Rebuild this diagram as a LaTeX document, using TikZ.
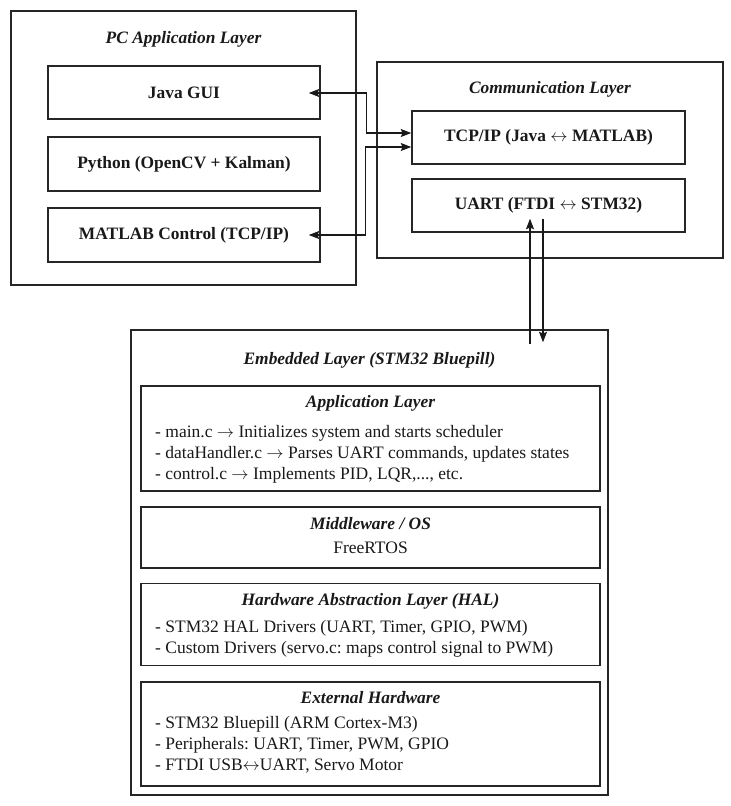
\documentclass[tikz,border=0pt]{standalone}
\usepackage{fontspec}
\setmainfont{Liberation Serif}
\usetikzlibrary{arrows.meta,calc}
\frenchspacing
\begin{document}
\begin{tikzpicture}[x=1pt,y=-1pt,
  every node/.style={font=\fontsize{17.5}{21}\selectfont\frenchspacing, text=black!90},
  frame/.style={draw=black!85, line width=1.5pt, inner sep=0pt},
  bbox/.style={frame, font=\fontsize{17.4}{21}\selectfont\bfseries},
  ttl/.style={anchor=base, inner sep=0pt, font=\fontsize{17.4}{21}\selectfont\bfseries\itshape},
  txt/.style={anchor=base west, inner sep=0pt},
  ctxt/.style={anchor=base, inner sep=0pt},
  tip/.tip={Stealth[length=10.5pt,width=8pt,inset=1.8pt]},
  arr/.style={draw=black!90, line width=1.2pt, -tip},
  biarr/.style={draw=black!90, line width=1.2pt, tip-tip}
]
\path[use as bounding box] (0,0) rectangle (731,806);

% PC application layer
\node[frame, minimum width=345pt, minimum height=274pt] (pc) at (183.5,148) {};
\node[ttl] (pct) at (183.5,43) {PC Application Layer};
\node[bbox, minimum width=272pt, minimum height=53pt] (java) at (184,92.5) {Java GUI};
\node[bbox, minimum width=272pt, minimum height=54pt] (py) at (184,164) {Python (OpenCV + Kalman)};
\node[bbox, minimum width=272pt, minimum height=54pt] (mat) at (184,235) {MATLAB Control (TCP/IP)};

% Communication layer
\node[frame, minimum width=346pt, minimum height=196pt] (comm) at (550,160) {};
\node[ttl] (commt) at (550,93) {Communication Layer};
\node[bbox, minimum width=273pt, minimum height=53pt] (tcp) at (548.5,137.5) {TCP/IP (Java $\leftrightarrow$ MATLAB)};
\node[bbox, minimum width=273pt, minimum height=53pt] (uart) at (548.5,205.5) {UART (FTDI $\leftrightarrow$ STM32)};

% Embedded layer
\node[frame, minimum width=477pt, minimum height=465pt] (emb) at (369.5,562.5) {};
\node[ttl] (embt) at (369.5,364) {Embedded Layer (STM32 Bluepill)};

\node[frame, minimum width=459pt, minimum height=105pt] (app) at (370.5,438.5) {};
\node[ttl] (appt) at (370.5,407) {Application Layer};
\node[txt] (a1) at (155,437) {- main.c $\rightarrow$ Initializes system and starts scheduler};
\node[txt] (a2) at (155,458) {- dataHandler.c $\rightarrow$ Parses UART commands, updates states};
\node[txt] (a3) at (155,479) {- control.c $\rightarrow$ Implements PID, LQR,..., etc.};

\node[frame, minimum width=459pt, minimum height=61pt] (mid) at (370.5,537.5) {};
\node[ttl] (midt) at (370.5,529) {Middleware / OS};
\node[ctxt] (m1) at (370.5,553) {FreeRTOS};

\node[frame, minimum width=459pt, minimum height=82pt] (hal) at (370.5,624.5) {};
\node[ttl] (halt) at (370.5,605) {Hardware Abstraction Layer (HAL)};
\node[txt] (h1) at (155,632) {- STM32 HAL Drivers (UART, Timer, GPIO, PWM)};
\node[txt] (h2) at (155,653) {- Custom Drivers (servo.c: maps control signal to PWM)};

\node[frame, minimum width=459pt, minimum height=104pt] (ext) at (370.5,734) {};
\node[ttl] (extt) at (370.5,703) {External Hardware};
\node[txt] (e1) at (155,728) {- STM32 Bluepill (ARM Cortex-M3)};
\node[txt] (e2) at (155,749) {- Peripherals: UART, Timer, PWM, GPIO};
\node[txt] (e3) at (155,770) {- FTDI USB$\leftrightarrow$UART, Servo Motor};

% connectors
\coordinate (j1) at ($(java.east)+(-12,0.5)$);
\coordinate (t1) at ($(tcp.west)+(0,-4.5)$);
\coordinate (m1e) at ($(mat.east)+(-12,0)$);
\coordinate (t2) at ($(tcp.west)+(0,9.5)$);
\draw[biarr] (j1) -- ++(58,0) |- (t1);
\draw[biarr] (t2) -- ++(-46,0) |- (m1e);

\coordinate (u1) at ($(uart.south)+(-18.5,-14)$);
\coordinate (u1b) at ($(emb.north)+(160.5,15)$);
\coordinate (u2) at ($(uart.south)+(-5.5,-14)$);
\coordinate (u2b) at ($(emb.north)+(173.5,13)$);
\draw[arr] (u1b) -- (u1);
\draw[arr] (u2) -- (u2b);
\end{tikzpicture}
\end{document}
